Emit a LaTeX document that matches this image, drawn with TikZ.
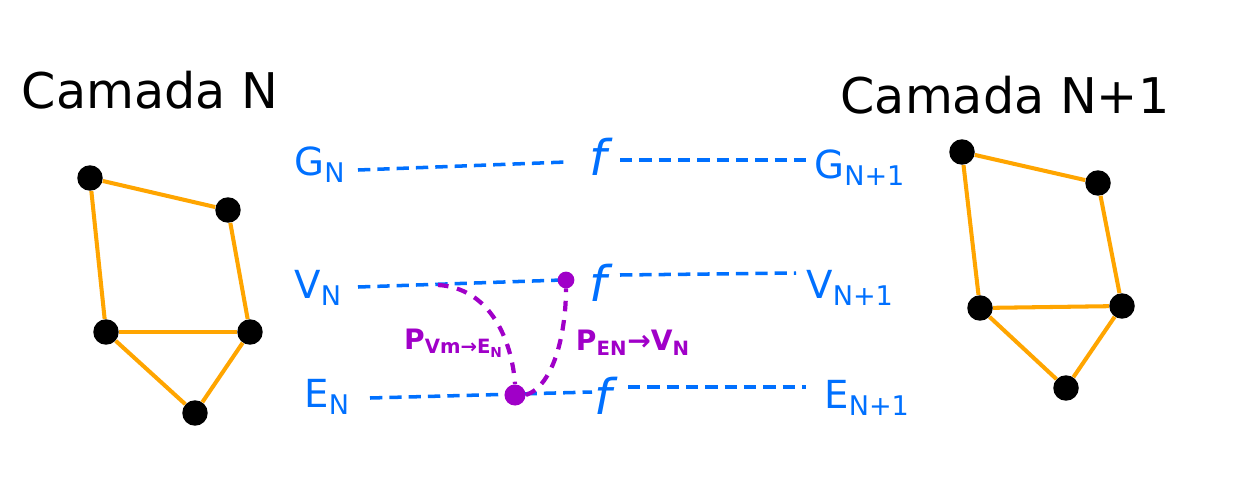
\documentclass[tikz,border=0pt]{standalone}
\usepackage{fontspec}
\setmainfont{DejaVu Sans}
\definecolor{edgeor}{RGB}{255,165,0}
\definecolor{lblue}{RGB}{0,112,255}
\definecolor{lpurp}{RGB}{160,0,200}
\tikzset{
  vtx/.style={circle,fill=black,inner sep=0pt,minimum size=14.5pt},
  gedge/.style={edgeor,line width=2.3pt},
  title/.style={font=\fontsize{28}{30}\selectfont,inner sep=0pt},
  blbl/.style={lblue,font=\fontsize{22}{24}\selectfont,inner sep=0pt,anchor=west},
  fn/.style={lblue,font=\fontsize{28}{30}\selectfont\itshape,inner sep=0pt},
  bdash/.style={lblue,line width=2pt,dash pattern=on 7pt off 4pt},
  pdash/.style={lpurp,line width=2.4pt,dash pattern=on 6pt off 5pt},
  plbl/.style={lpurp,font=\fontsize{16}{18}\selectfont\bfseries,inner sep=0pt},
}
\begin{document}
\begin{tikzpicture}[x=0.02cm,y=-0.02cm]
\useasboundingbox (0,0) rectangle (1236,490);
% titles
\node[title] (t1) at (150,90) {Camada N};
\node[title] (t2) at (1005,95) {Camada N+1};
% left graph
\node[vtx] (a1) at (90,178) {};
\node[vtx] (a2) at (228,210) {};
\node[vtx] (a3) at (106,332) {};
\node[vtx] (a4) at (250,332) {};
\node[vtx] (a5) at (195,413) {};
\draw[gedge] (a1) -- (a2);
\draw[gedge] (a2) -- (a4);
\draw[gedge] (a1) -- (a3);
\draw[gedge] (a3) -- (a4);
\draw[gedge] (a3) -- (a5);
\draw[gedge] (a4) -- (a5);
% right graph
\node[vtx] (b1) at (962,152) {};
\node[vtx] (b2) at (1098,183) {};
\node[vtx] (b3) at (980,308) {};
\node[vtx] (b4) at (1122,306) {};
\node[vtx] (b5) at (1066,388) {};
\draw[gedge] (b1) -- (b2);
\draw[gedge] (b2) -- (b4);
\draw[gedge] (b1) -- (b3);
\draw[gedge] (b3) -- (b4);
\draw[gedge] (b3) -- (b5);
\draw[gedge] (b4) -- (b5);
% blue labels
\node[blbl] (gn) at (294,165) {G\textsubscript{N}};
\node[blbl] (vn) at (294,288) {V\textsubscript{N}};
\node[blbl] (en) at (304,397) {E\textsubscript{N}};
\node[blbl] (gn1) at (814,168) {G\textsubscript{N+1}};
\node[blbl] (vn1) at (806,288) {V\textsubscript{N+1}};
\node[blbl] (en1) at (824,398) {E\textsubscript{N+1}};
\node[fn] (f1) at (598,157) {f};
\node[fn] (f2) at (598,283) {f};
\node[fn] (f3) at (603,396) {f};
% dashed lines
\coordinate (g1) at (358,170); \coordinate (g2) at (566,162);
\coordinate (g3) at (620,160); \coordinate (g4) at (808,160);
\coordinate (v1) at (358,287); \coordinate (v2) at (562,280);
\coordinate (v3) at (620,275); \coordinate (v4) at (796,273);
\coordinate (e1) at (370,398); \coordinate (e2) at (592,392);
\coordinate (e3) at (628,387); \coordinate (e4) at (806,387);
\draw[bdash] (g1) -- (g2);
\draw[bdash] (g3) -- (g4);
\draw[bdash] (v1) -- (v2);
\draw[bdash] (v3) -- (v4);
\draw[bdash] (e1) -- (e2);
\draw[bdash] (e3) -- (e4);
% purple
\node[circle,draw=lpurp,fill=lpurp,line width=1.5pt,inner sep=0pt,minimum size=8pt] (pv) at (566,280) {};
\node[circle,fill=lpurp,inner sep=0pt,minimum size=12pt] (pe) at (515,395) {};
\coordinate (ps) at (438,285);
\draw[pdash] (ps) .. controls (490,288) and (512,340) .. (pe.north);
\draw[pdash] (pe.east) .. controls (555,385) and (566,330) .. (pv.south);
\node[plbl] (l1) at (454,343) {P\textsubscript{Vm→E\textsubscript{N}}};
\node[plbl] (l2) at (633,343) {P\textsubscript{EN}→V\textsubscript{N}};
\end{tikzpicture}
\end{document}
